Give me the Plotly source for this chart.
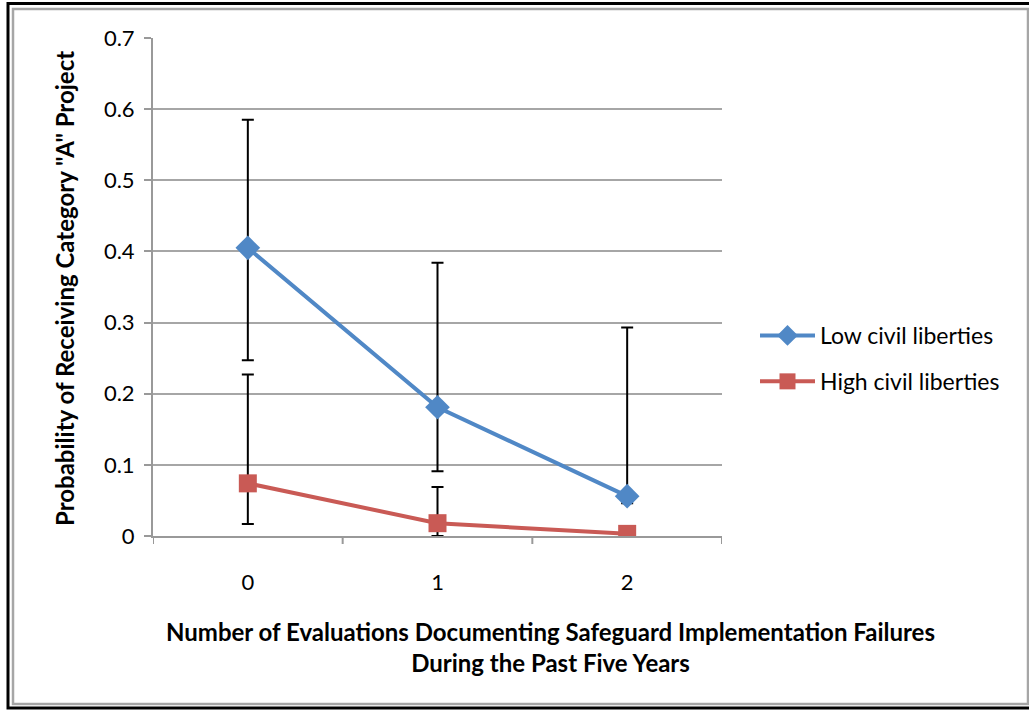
import plotly.graph_objects as go

categories = [0, 1, 2]
category_labels = ["0", "1", "2"]

low_values = [0.405, 0.181, 0.056]
low_upper = [0.585, 0.384, 0.293]
low_lower = [0.247, 0.091, 0.046]

high_values = [0.074, 0.018, 0.003]
high_upper = [0.227, 0.069, 0.010]
high_lower = [0.017, 0.0, 0.0]

y_ticks = [0, 0.1, 0.2, 0.3, 0.4, 0.5, 0.6, 0.7]
y_tick_labels = ["0", "0.1", "0.2", "0.3", "0.4", "0.5", "0.6", "0.7"]

W, H = 1029, 710
L, R, T, B = 153, 307, 38, 174
FONT = "Lato, Calibri, 'Liberation Sans', sans-serif"

def err(vals, up, lo):
    return dict(type="data", symmetric=False,
                array=[u - v for u, v in zip(up, vals)],
                arrayminus=[v - l for v, l in zip(vals, lo)],
                color="black", thickness=2, width=6)

fig = go.Figure()
fig.add_trace(go.Scatter(
    x=categories, y=low_values, name="Low civil liberties", mode="lines+markers",
    legendgroup="a",
    line=dict(color="#5088C6", width=4),
    marker=dict(symbol="diamond", size=19, color="#5088C6"),
    error_y=err(low_values, low_upper, low_lower)))
fig.add_trace(go.Scatter(
    x=categories, y=high_values, name="High civil liberties", mode="lines+markers",
    legendgroup="b",
    line=dict(color="#C95A55", width=4),
    marker=dict(symbol="square", size=18, color="#C95A55"),
    error_y=err(high_values, high_upper, high_lower)))

def px_x(p):
    return (p - L) / (W - L - R)

def px_y(p):
    return (H - B - p) / (H - B - T)

shapes = [
    dict(type="rect", xref="paper", yref="paper", x0=px_x(8), x1=px_x(1040), y0=px_y(3.5), y1=px_y(708),
         line=dict(color="black", width=3), fillcolor="rgba(0,0,0,0)", layer="below"),
    dict(type="rect", xref="paper", yref="paper", x0=px_x(13), x1=px_x(1028), y0=px_y(9), y1=px_y(704),
         line=dict(color="#a6a6a6", width=2.5), fillcolor="rgba(0,0,0,0)", layer="below"),
]

fig.update_layout(
    width=W, height=H,
    margin=dict(l=L, r=R, t=T, b=B),
    paper_bgcolor="white", plot_bgcolor="white",
    font=dict(family=FONT, size=22, color="black"),
    showlegend=True,
    legend=dict(x=px_x(755), y=px_y(314), xanchor="left", yanchor="top",
                font=dict(family=FONT, size=23), tracegroupgap=13, traceorder="grouped",
                itemwidth=55, bgcolor="rgba(0,0,0,0)"),
    xaxis=dict(range=[-0.5, 2.5], tickvals=categories, ticktext=category_labels,
               showgrid=False, zeroline=False, showline=True, linecolor="#999999", linewidth=2,
               ticks="", ticklabelstandoff=26, tickfont=dict(size=22), fixedrange=True),
    yaxis=dict(range=[0, 0.7], tickvals=y_ticks, ticktext=y_tick_labels,
               showgrid=True, gridcolor="#a6a6a6", gridwidth=2, zeroline=False,
               showline=True, linecolor="#999999", linewidth=2,
               ticks="outside", ticklen=7, tickcolor="#999999", tickwidth=2,
               ticklabelstandoff=5, tickfont=dict(size=22)),
    shapes=shapes,
    annotations=[
        dict(text="<b>Number of Evaluations Documenting Safeguard Implementation Failures</b><br><b>During the Past Five Years</b>",
             xref="paper", yref="paper", x=px_x(550), y=px_y(647), showarrow=False,
             font=dict(family=FONT, size=24), align="center", xanchor="center", yanchor="middle"),
        dict(text="<b>Probability of Receiving Category \"A\" Project</b>",
             xref="paper", yref="paper", x=px_x(64), y=px_y(289), showarrow=False, textangle=-90,
             font=dict(family=FONT, size=24), xanchor="center", yanchor="middle"),
    ],
)

# category-boundary tick marks on x axis
for b in [-0.5, 0.5, 1.5, 2.5]:
    fig.add_shape(type="line", xref="x", yref="paper", x0=b, x1=b, y0=0, y1=px_y(544),
                  line=dict(color="#999999", width=2))

fig.write_html("out.html", config={"displayModeBar": False},
               post_script="document.body.style.margin='0';document.body.style.overflow='hidden';")
